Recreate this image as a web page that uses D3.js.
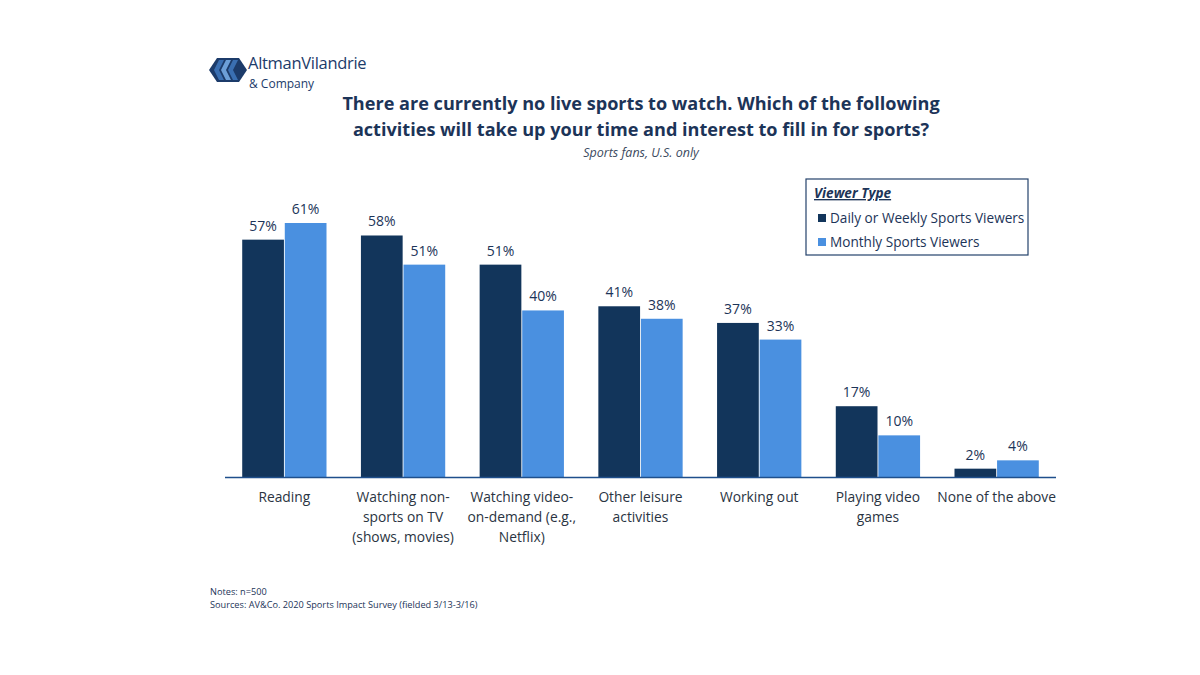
<!DOCTYPE html>
<html>
<head>
<meta charset="utf-8">
<script src="https://cdn.jsdelivr.net/npm/d3@7"></script>
<style>
  body { margin: 0; background: #fff; }
  svg { font-family: 'Open Sans', 'Noto Sans', sans-serif; }
</style>
</head>
<body>
<div class="chart"></div>
<script>
// 資料
const categories = [
    ['Reading'],
    ['Watching non-', 'sports on TV', '(shows, movies)'],
    ['Watching video-', 'on-demand (e.g.,', 'Netflix)'],
    ['Other leisure', 'activities'],
    ['Working out'],
    ['Playing video', 'games'],
    ['None of the above']
];
const dailyWeekly = [57, 58, 51, 41, 37, 17, 2];
const monthly = [61, 51, 40, 38, 33, 10, 4];
const seriesNames = ['Daily or Weekly Sports Viewers', 'Monthly Sports Viewers'];
const seriesColors = ['#12355b', '#4a90e0'];

const textColor = '#1c3458';
const width = 1200, height = 675;

const svg = d3.select('.chart').append('svg')
    .attr('width', width).attr('height', height);

// 比例尺
const xScale = d3.scaleBand()
    .domain(d3.range(categories.length))
    .range([225, 1056])
    .paddingInner(0.29)
    .paddingOuter(0.145);
const xSub = d3.scaleBand()
    .domain([0, 1])
    .range([0, xScale.bandwidth()])
    .paddingInner(0.02);
const yScale = d3.scaleLinear()
    .domain([0, 61])
    .range([477, 223]);

// 長條
const groups = svg.append('g').selectAll('.grp')
    .data(categories.map((c, i) => [dailyWeekly[i], monthly[i]]))
    .enter().append('g')
    .attr('transform', (d, i) => `translate(${xScale(i)},0)`);

groups.selectAll('rect')
    .data(d => d)
    .enter().append('rect')
    .attr('x', (d, j) => xSub(j))
    .attr('y', d => yScale(d))
    .attr('width', xSub.bandwidth())
    .attr('height', d => yScale(0) - yScale(d))
    .style('fill', (d, j) => seriesColors[j]);

groups.selectAll('.val')
    .data(d => d)
    .enter().append('text')
    .attr('x', (d, j) => xSub(j) + xSub.bandwidth() / 2)
    .attr('y', d => yScale(d) - 9)
    .attr('text-anchor', 'middle')
    .style('font-size', '14px')
    .style('fill', textColor)
    .text(d => d + '%');

// X 軸線
svg.append('line')
    .attr('x1', 225).attr('x2', 1056)
    .attr('y1', yScale(0) + 0.5).attr('y2', yScale(0) + 0.5)
    .style('stroke', '#1f4f8c').style('stroke-width', 1.5);

// 類別標籤
const catLabels = svg.append('g').selectAll('.cat')
    .data(categories).enter()
    .append('text')
    .attr('text-anchor', 'middle')
    .style('font-size', '13.8px')
    .style('fill', '#2a3442');
catLabels.selectAll('tspan')
    .data((d, i) => d.map(t => ({ t: t, i: i })))
    .enter().append('tspan')
    .attr('x', d => xScale(d.i) + xScale.bandwidth() / 2)
    .attr('y', (d, k) => 502 + k * 20)
    .text(d => d.t);

// 標題
const title = svg.append('text')
    .attr('text-anchor', 'middle')
    .style('font-size', '18.1px').style('font-weight', 'bold')
    .style('fill', textColor);
title.append('tspan').attr('x', 641).attr('y', 110)
    .text('There are currently no live sports to watch. Which of the following');
title.append('tspan').attr('x', 641).attr('y', 136)
    .text('activities will take up your time and interest to fill in for sports?');
svg.append('text')
    .attr('x', 641).attr('y', 157)
    .attr('text-anchor', 'middle')
    .style('font-size', '12.5px').style('font-style', 'italic')
    .style('fill', '#3b4a5e')
    .text('Sports fans, U.S. only');

// 圖例
const legend = svg.append('g').attr('transform', 'translate(806,179)');
legend.append('rect')
    .attr('width', 222).attr('height', 76)
    .style('fill', '#fff').style('stroke', '#24426b').style('stroke-width', 1.2);
legend.append('text')
    .attr('x', 8).attr('y', 19)
    .style('font-size', '13.6px').style('font-weight', 'bold')
    .style('font-style', 'italic').style('text-decoration', 'underline')
    .style('fill', textColor)
    .text('Viewer Type');
const items = legend.selectAll('.item')
    .data(seriesNames).enter().append('g')
    .attr('transform', (d, i) => `translate(12,${39 + i * 24})`);
items.append('rect')
    .attr('x', 0).attr('y', -4)
    .attr('width', 8).attr('height', 8)
    .style('fill', (d, i) => seriesColors[i]);
items.append('text')
    .attr('x', 12).attr('y', 5)
    .style('font-size', '13.6px')
    .style('fill', textColor)
    .text(d => d);

// Logo
const logo = svg.append('g').attr('transform', 'translate(211,58)');
logo.append('path')
    .attr('d', 'M6,0 L28,0 L36,12 L28,24 L6,24 L-2,12 Z')
    .style('fill', '#1c3b6a');
[0, 1, 2].forEach(k => {
    logo.append('path')
        .attr('d', `M${8 + k * 7},2 L${13 + k * 7},2 L${8 + k * 7},12 L${13 + k * 7},22 L${8 + k * 7},22 L${3 + k * 7},12 Z`)
        .style('fill', k === 1 ? '#6c9fd8' : '#3a6fb2');
});
svg.append('text')
    .attr('x', 248).attr('y', 69)
    .style('font-size', '16.5px').style('fill', '#1c3b6a')
    .style('letter-spacing', '-0.3px')
    .text('AltmanVilandrie');
svg.append('text')
    .attr('x', 249).attr('y', 87.5)
    .style('font-size', '12px').style('fill', '#1c3b6a')
    .text('& Company');

// 註記
const notes = svg.append('text')
    .style('font-size', '9.2px').style('fill', '#1c3458');
notes.append('tspan').attr('x', 210).attr('y', 595).text('Notes: n=500');
notes.append('tspan').attr('x', 210).attr('y', 608)
    .text('Sources: AV&Co. 2020 Sports Impact Survey (fielded 3/13-3/16)');
</script>
</body>
</html>
